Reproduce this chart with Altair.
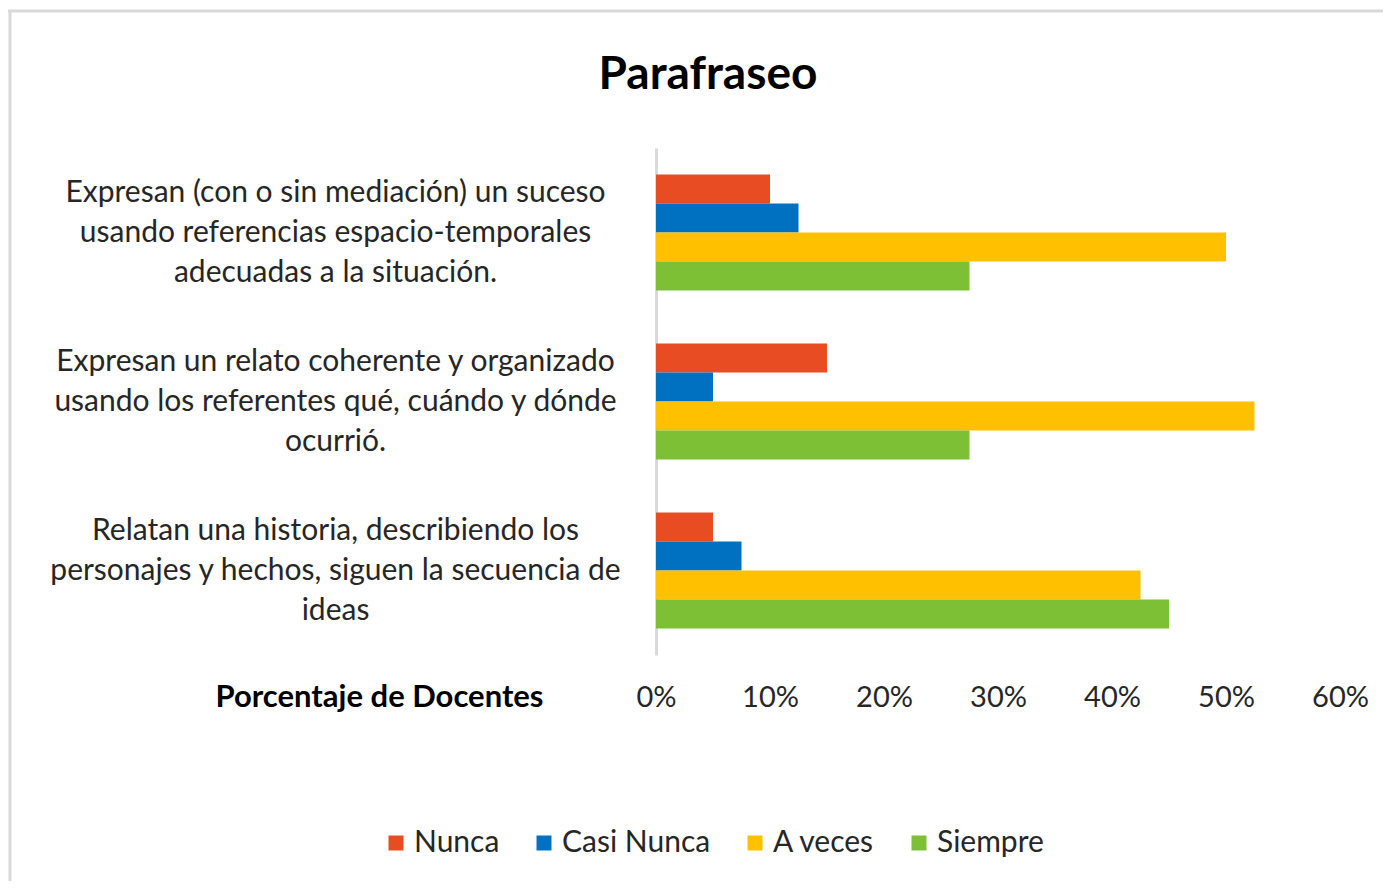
import altair as alt
import pandas as pd

categories = [
    "Expresan (con o sin mediación) un suceso\nusando referencias espacio-temporales\nadecuadas a la situación.",
    "Expresan un relato coherente y organizado\nusando los referentes qué, cuándo y dónde\nocurrió.",
    "Relatan una historia, describiendo los\npersonajes y hechos, siguen la secuencia de\nideas",
]
series = ["Nunca", "Casi Nunca", "A veces", "Siempre"]
colors = ["#E84C22", "#0070C0", "#FFC000", "#7DC035"]
nunca = [0.10, 0.15, 0.05]
casi_nunca = [0.125, 0.05, 0.075]
a_veces = [0.50, 0.525, 0.425]
siempre = [0.275, 0.275, 0.45]
x_ticks = [0, 0.1, 0.2, 0.3, 0.4, 0.5, 0.6]
chart_title = "Parafraseo"

rows = []
for i, c in enumerate(categories):
    for s, vals in zip(series, [nunca, casi_nunca, a_veces, siempre]):
        rows.append({"Indicador": c, "Respuesta": s, "Valor": vals[i]})
df = pd.DataFrame(rows)

FONT = "Lato"

bars = alt.Chart(df).mark_bar().encode(
    y=alt.Y("Indicador:N", sort=categories,
            scale=alt.Scale(paddingInner=0.314, paddingOuter=0.157),
            axis=alt.Axis(title=None, labelExpr="split(datum.label, '\\n')",
                          labelAlign="center", labelBaseline="middle",
                          labelPadding=321, labelLineHeight=40, labelOffset=-40,
                          labelFontSize=30, labelFont=FONT, labelColor="#262626",
                          ticks=False, tickSize=0, domainColor="#D9D9D9",
                          domainWidth=3, labelLimit=800, grid=False)),
    yOffset=alt.YOffset("Respuesta:N", sort=series, scale=alt.Scale(paddingInner=0, paddingOuter=0)),
    x=alt.X("Valor:Q", scale=alt.Scale(domain=[0, 0.6], nice=False),
            axis=alt.Axis(values=x_ticks, format=".0%", grid=False, domain=False,
                          ticks=False, tickSize=0, labelPadding=42,
                          labelBaseline="middle", labelFontSize=29, labelFont=FONT,
                          labelColor="#262626", labelFlush=False,
                          title="Porcentaje de Docentes", titleFont=FONT,
                          titleFontSize=31, titleFontWeight="bold", titleColor="#000000",
                          titleAlign="right", titleBaseline="middle",
                          titleX=-113, titleY=42, titleAnchor="start")),
    color=alt.Color("Respuesta:N", sort=series,
                    scale=alt.Scale(domain=series, range=colors),
                    legend=alt.Legend(title=None, orient="none", direction="horizontal",
                                      legendX=-275, legendY=680,
                                      symbolType="square", symbolSize=225,
                                      symbolStrokeWidth=0,
                                      labelFont=FONT, labelFontSize=30,
                                      labelColor="#262626", labelOffset=3,
                                      columnPadding=29, labelLimit=400)),
)

title_df = pd.DataFrame({"t": [chart_title]})
title_mark = alt.Chart(title_df).mark_text(
    font=FONT, fontSize=46, fontWeight="bold", color="#000000",
    align="center", baseline="alphabetic"
).encode(text="t:N", x=alt.value(52), y=alt.value(-59))

border_top = alt.Chart(pd.DataFrame({"a": [0]})).mark_rule(
    color="#D9D9D9", strokeWidth=3, clip=False
).encode(x=alt.value(-648), x2=alt.value(740), y=alt.value(-137))

border_left = alt.Chart(pd.DataFrame({"a": [0]})).mark_rule(
    color="#D9D9D9", strokeWidth=3, clip=False
).encode(x=alt.value(-646), y=alt.value(-138), y2=alt.value(740))

chart = alt.layer(border_top, border_left, title_mark, bars).properties(
    width=684, height=507,
    padding={"left": 648, "top": 140, "right": 43, "bottom": 226},
    autosize=alt.AutoSizeParams(type="none"),
).configure_view(stroke=None)

chart.save("out.html", embed_options={"renderer": "svg", "actions": False})
